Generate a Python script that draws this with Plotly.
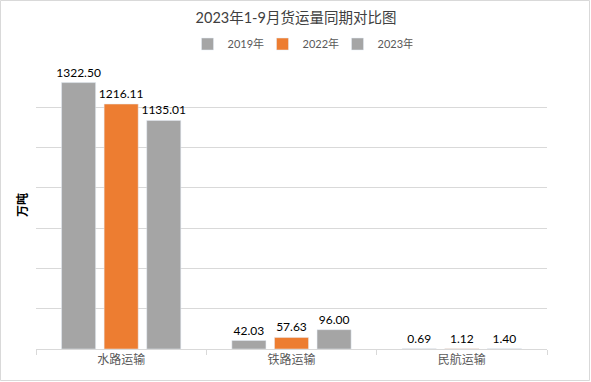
import plotly.graph_objects as go

categories = ["水路运输", "铁路运输", "民航运输"]
series_names = ["2019年", "2022年", "2023年"]
v2019 = [1322.50, 42.03, 0.69]
v2022 = [1216.11, 57.63, 1.12]
v2023 = [1135.01, 96.00, 1.40]
colors = ["#A5A5A5", "#ED7D31", "#A5A5A5"]

FONT = "Lato, Noto Sans CJK SC, sans-serif"
W, H = 591, 382
L, R, T, B = 36, 44, 67, 33
pw, ph = W - L - R, H - T - B

fig = go.Figure()
for name, vals, c in zip(series_names, [v2019, v2022, v2023], colors):
    fig.add_trace(go.Bar(
        x=categories, y=vals, name=name, marker_color=c,
        texttemplate="%{y:.2f}", textposition="outside",
        constraintext="none",
        textfont=dict(size=12, color="#000000", family=FONT),
        cliponaxis=False,
    ))

fig.update_layout(
    width=W, height=H,
    margin=dict(l=L, r=R, t=T, b=B),
    paper_bgcolor="white", plot_bgcolor="white",
    barmode="group", bargap=0.25, bargroupgap=0.2,
    font=dict(family=FONT),
    title=dict(text="2023年1-9月货运量同期对比图", x=(296 - L) / pw, xref="paper",
               xanchor="center", y=1 - 18 / H, yanchor="middle",
               font=dict(size=14.5, color="#404040", family=FONT)),
    legend=dict(orientation="h", x=(300 - L) / pw, xanchor="center",
                y=1 + (T - 44) / ph, yanchor="middle",
                font=dict(size=11, color="#595959", family=FONT),
                itemwidth=30, tracegroupgap=0,
                entrywidth=30, entrywidthmode="pixels"),
    showlegend=True,
    xaxis=dict(showline=True, linecolor="#D9D9D9", linewidth=1,
               ticks="outside", tickson="boundaries", ticklen=5,
               tickcolor="#D9D9D9",
               tickfont=dict(size=12, color="#595959", family=FONT)),
    yaxis=dict(range=[0, 1400], dtick=200, showgrid=True,
               gridcolor="#D9D9D9", gridwidth=1, showticklabels=False,
               zeroline=False, showline=False),
)

fig.add_annotation(text="<b>万吨</b>", textangle=-90, xref="paper", yref="paper",
                   x=(22 - L) / pw, y=(H - B - 205) / ph, showarrow=False,
                   xanchor="center", yanchor="middle",
                   font=dict(size=12, color="#000000", family=FONT))

fig.add_shape(type="rect", xref="paper", yref="paper",
              x0=-L / pw + 0.5 / pw, x1=1 + (R - 1.5) / pw,
              y0=-B / ph + 1.5 / ph, y1=1 + (T - 0.5) / ph,
              line=dict(color="#D9D9D9", width=1), layer="below")

fig.write_html("out.html", config={"displayModeBar": False},
               post_script="document.body.style.margin='0';document.body.style.overflow='hidden';")
